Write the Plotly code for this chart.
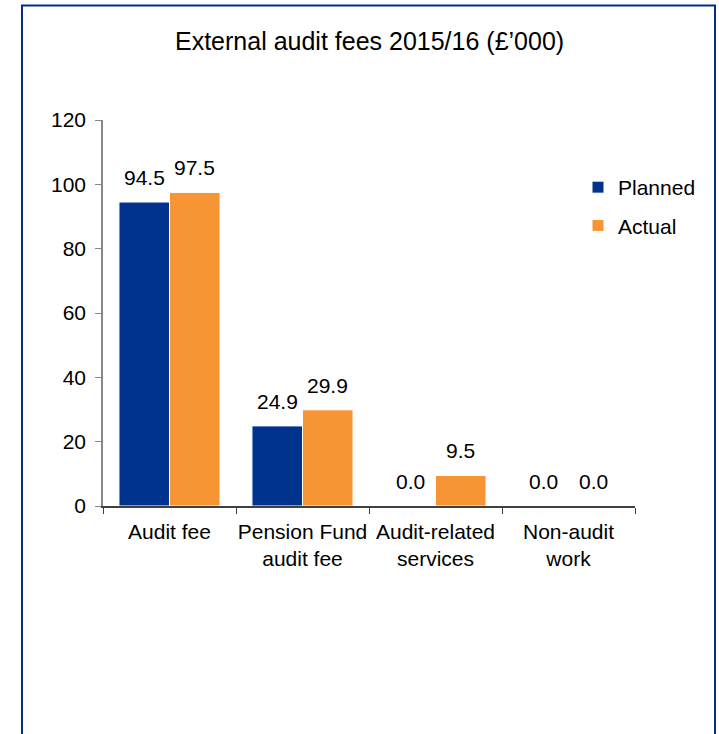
import plotly.graph_objects as go

categories = ["Audit fee", "Pension Fund<br>audit fee", "Audit-related<br>services", "Non-audit<br>work"]
planned = [94.5, 24.9, 0.0, 0.0]
actual = [97.5, 29.9, 9.5, 0.0]
series_names = ["Planned", "Actual"]
series_colors = ["#00338D", "#F79433"]
y_ticks = [0, 20, 40, 60, 80, 100, 120]

FONT = "Liberation Sans, Arial, sans-serif"
BARGAP = 0.24

fig = go.Figure()
for i, (name, vals, col) in enumerate(zip(series_names, [planned, actual], series_colors)):
    fig.add_trace(go.Bar(
        x=categories, y=vals, name=name,
        marker=dict(color=col, line=dict(color="white", width=1)),
        legendgroup=name,
    ))

# value labels above each bar, anchored on data values
slot = (1 - BARGAP) / 2
for i, vals in enumerate([planned, actual]):
    for j, v in enumerate(vals):
        fig.add_annotation(
            x=j + (i - 0.5) * slot, y=v, xref="x", yref="y",
            text=f"{v:.1f}", showarrow=False, yanchor="bottom",
            yshift=11, font=dict(family=FONT, size=21, color="#000000"),
        )

fig.add_shape(type="rect", xref="paper", yref="paper",
              x0=-0.1523, x1=1.1504, y0=-0.65, y1=1.2966,
              line=dict(color="#002F87", width=2), fillcolor="rgba(0,0,0,0)", layer="below")

fig.update_layout(
    width=719, height=734,
    margin=dict(l=103, r=84, t=120, b=228),
    paper_bgcolor="white", plot_bgcolor="white",
    barmode="group", bargap=BARGAP, bargroupgap=0,
    font=dict(family=FONT, size=21, color="#000000"),
    title=dict(text="External audit fees 2015/16 (£’000)", x=0.514, xanchor="center",
               y=1 - 41 / 734, yanchor="middle",
               font=dict(family=FONT, size=25, color="#000000")),
    showlegend=True,
    legend=dict(x=(578 - 103) / 532, y=(506 - 167) / 386, xanchor="left", yanchor="top",
                font=dict(family=FONT, size=21, color="#000000"),
                bgcolor="rgba(0,0,0,0)", tracegroupgap=8, itemclick=False),
    xaxis=dict(type="category", tickson="boundaries", ticks="outside", ticklen=6,
               tickangle=0, ticklabelstandoff=6,
               tickcolor="#404040", showline=True, linecolor="#404040", linewidth=1.5,
               showgrid=False, tickfont=dict(family=FONT, size=21, color="#000000")),
    yaxis=dict(range=[0, 120], tickvals=y_ticks, ticks="outside", ticklen=6,
               tickcolor="#888888", showline=True, linecolor="#888888", linewidth=1.5,
               showgrid=False, zeroline=False, ticklabelstandoff=5,
               tickfont=dict(family=FONT, size=21, color="#000000")),
)

fig.write_html("out.html", config={"displayModeBar": False},
               post_script="document.body.style.margin='0';document.body.style.overflow='hidden';")
